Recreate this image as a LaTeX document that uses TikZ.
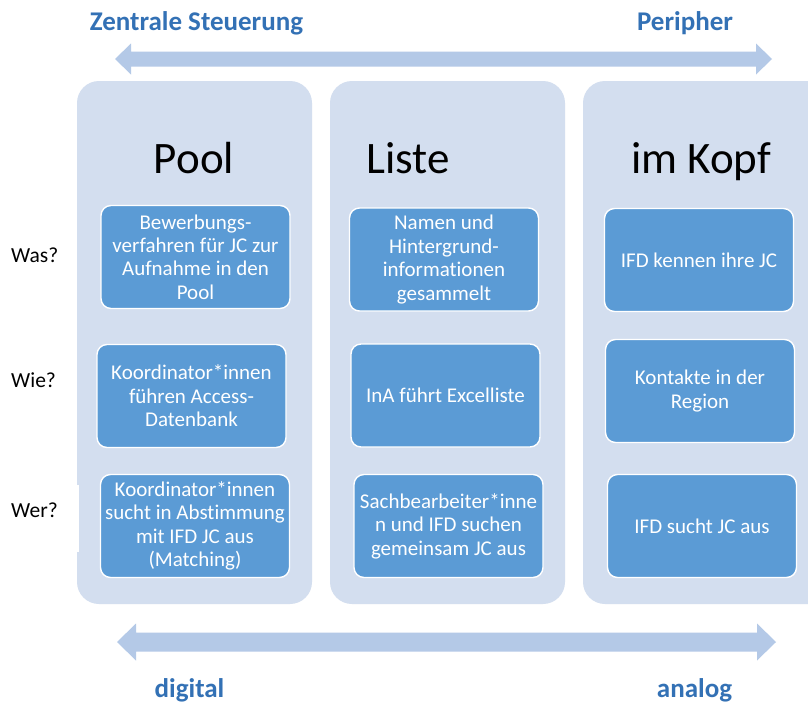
\documentclass[tikz,border=0pt]{standalone}
\usepackage{fontspec}
\setmainfont[Ligatures=NoCommon]{Carlito}
\definecolor{colfill}{HTML}{D3DEEF}
\definecolor{arrowc}{HTML}{B4C9E7}
\definecolor{boxblue}{HTML}{5B9BD5}
\definecolor{headblue}{HTML}{3371B5}
\tikzset{
  colbox/.style={fill=colfill, rounded corners=22pt, minimum width=235pt, minimum height=523pt, inner sep=0pt},
  itembox/.style={fill=boxblue, draw=white, line width=1.4pt, rounded corners=10pt,
     minimum width=189pt, minimum height=103pt, inner sep=0pt, text=white, align=center,
     font=\fontsize{21}{23.4}\selectfont},
  headtxt/.style={anchor=base, text=headblue, inner sep=0pt, font=\fontsize{27}{30}\selectfont\bfseries},
  coltitle/.style={anchor=base, inner sep=0pt, font=\fontsize{45}{50}\selectfont},
  sidelbl/.style={anchor=base west, inner sep=0pt, font=\fontsize{21.5}{24}\selectfont}
}
\begin{document}
\begin{tikzpicture}[x=1pt,y=-1pt]
\useasboundingbox (0,0) rectangle (808,704);
\clip (0,0) rectangle (808,704);
\fill[white] (0,0) rectangle (808,704);

% header texts
\node[headtxt] (zs) at (196.5,30) {Zentrale Steuerung};
\node[headtxt] (per) at (685,30) {Peripher};

% top double arrow
\fill[arrowc] (115,59) -- (131,43.5) -- (131,51.5) -- (756,51.5) -- (756,43.5) -- (772,59)
  -- (756,74.5) -- (756,66.5) -- (131,66.5) -- (131,74.5) -- cycle;

% columns
\node[colbox] (pool) at (194.5,342.5) {};
\node[colbox] (liste) at (447.5,342.5) {};
\node[colbox, minimum width=250pt] (kopf) at (708,342.5) {};

% white patch beside Wer?
\fill[white] (0,485) rectangle (79,552);

% column titles
\node[coltitle] (tpool) at (194,173) {Pool};
\node[coltitle] (tliste) at (408,173) {Liste};
\node[coltitle] (tkopf) at (701,173) {im Kopf};

% side labels
\node[sidelbl] (was) at (11,262) {Was?};
\node[sidelbl] (wie) at (11,387) {Wie?};
\node[sidelbl] (wer) at (11,517) {Wer?};

% Pool boxes
\node[itembox] (p1) at (195.5,257) {Bewerbungs-\\verfahren für JC zur\\Aufnahme in den\\Pool};
\node[itembox] (p2) at (191.5,396) {Koordinator*innen\\führen Access-\\Datenbank};
\node[itembox] (p3) at (195,526) {Koordinator*innen\\sucht in Abstimmung\\mit IFD JC aus\\(Matching)};

% Liste boxes
\node[itembox] (l1) at (444,259.5) {Namen und\\Hintergrund-\\informationen\\gesammelt};
\node[itembox] (l2) at (445.5,395.5) {InA führt Excelliste};
\node[itembox] (l3) at (448.5,526) {Sachbearbeiter*inne\\n und IFD suchen\\gemeinsam JC aus};

% im Kopf boxes
\node[itembox] (k1) at (699,260) {IFD kennen ihre JC};
\node[itembox] (k2) at (700,391) {Kontakte in der\\Region};
\node[itembox] (k3) at (702,526) {IFD sucht JC aus};

% bottom double arrow
\fill[arrowc] (117,642) -- (136,623.5) -- (136,632.5) -- (757,632.5) -- (757,623.5) -- (776,642)
  -- (757,660.5) -- (757,651.5) -- (136,651.5) -- (136,660.5) -- cycle;

\node[headtxt] (dig) at (189.5,697) {digital};
\node[headtxt] (ana) at (694.5,697) {analog};
\end{tikzpicture}
\end{document}
